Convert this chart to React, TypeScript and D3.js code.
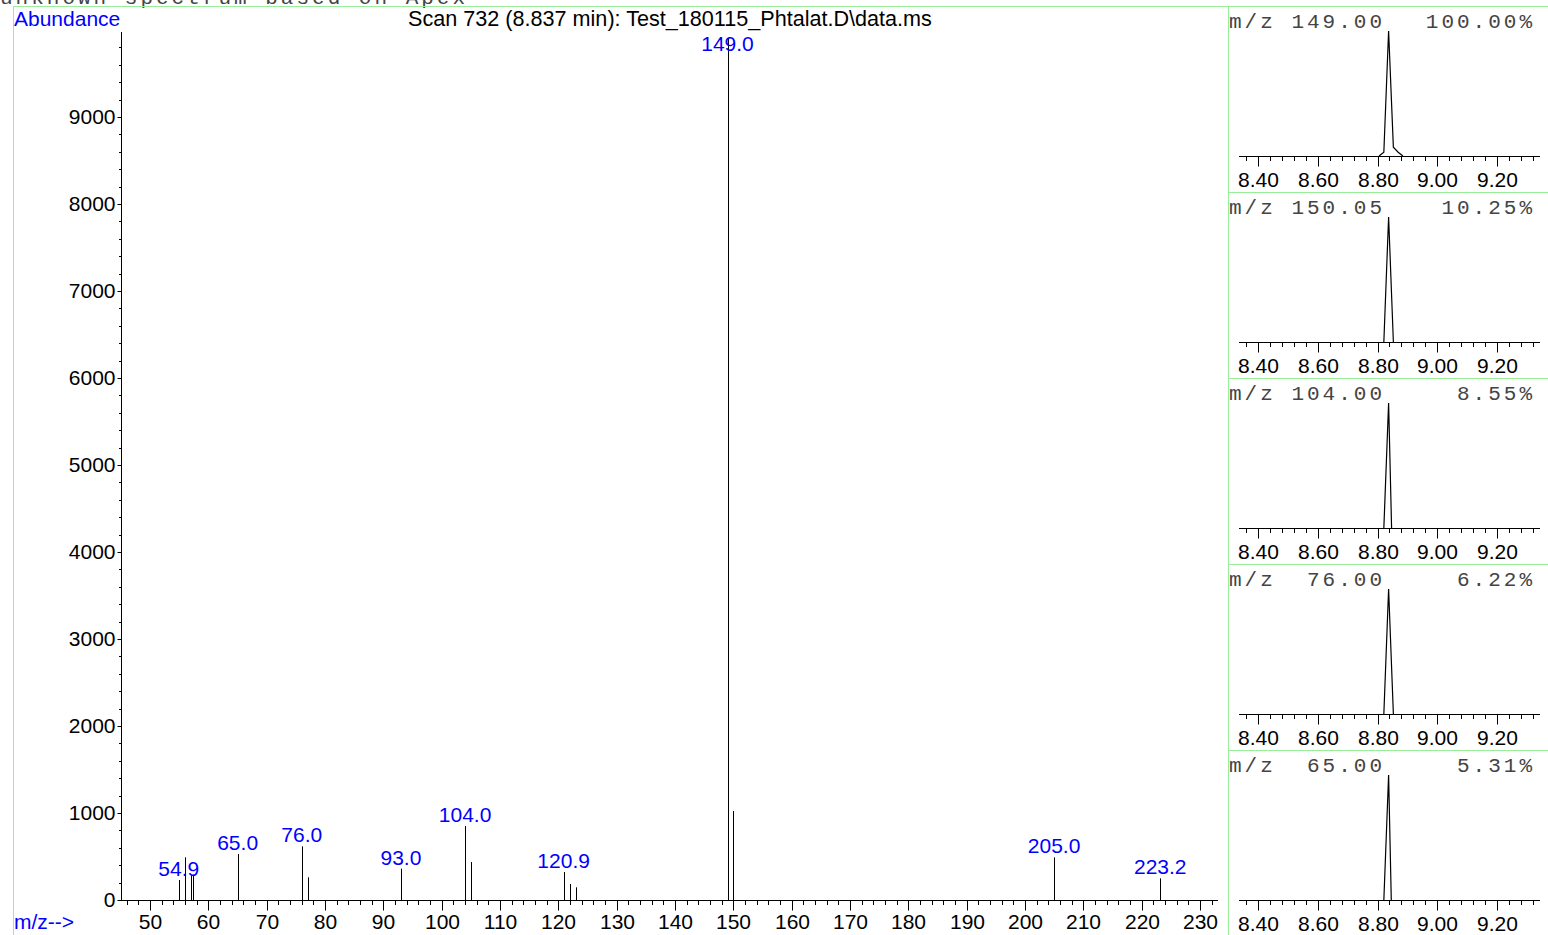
import React, { useEffect, useRef } from "react";
import * as d3 from "d3";

const HEADER = "unknown spectrum based on Apex";
const TITLE = "Scan 732 (8.837 min): Test_180115_Phtalat.D\\data.ms";

// spectrum: m/z and abundance of every line
const mzValues = [54.9, 56.0, 57.0, 57.3, 65.0, 76.0, 77.0, 93.0, 104.0, 105.0, 120.9, 122.0, 123.0, 149.0, 150.0, 205.0, 223.2];
const abundances = [230, 490, 287, 280, 529, 617, 261, 360, 851, 437, 322, 184, 146, 9910, 1023, 490, 249];
const labelledMz = [54.9, 65.0, 76.0, 93.0, 104.0, 120.9, 149.0, 205.0, 223.2];

const xMajor = [50, 60, 70, 80, 90, 100, 110, 120, 130, 140, 150, 160, 170, 180, 190, 200, 210, 220, 230];
const yMajor = [0, 1000, 2000, 3000, 4000, 5000, 6000, 7000, 8000, 9000];

// extracted ion chromatograms (right side)
const ionMz = ["149.00", "150.05", "104.00", " 76.00", " 65.00"];
const ionPercent = ["100.00%", "10.25%", "8.55%", "6.22%", "5.31%"];
const ionTimes = [
  [8.805, 8.821, 8.837, 8.853, 8.869, 8.885],
  [8.821, 8.837, 8.853],
  [8.821, 8.837, 8.847],
  [8.821, 8.837, 8.853],
  [8.821, 8.837, 8.846],
];
const ionAbund = [
  [0, 3, 100, 7, 3, 0],
  [0, 100, 0],
  [0, 100, 0],
  [0, 100, 0],
  [0, 100, 0],
];
const rtMajor = [8.4, 8.6, 8.8, 9.0, 9.2];

const W = 1548;
const H = 935;
const GREEN = "#99ee99";
const SANS = "'Liberation Sans', Arial, Helvetica, sans-serif";
const MONO = "'Liberation Mono', 'Courier New', monospace";
const FS = "21px";

export default function App() {
  const ref = useRef<SVGSVGElement>(null);

  useEffect(() => {
    if (!ref.current) return;
    const svg = d3.select(ref.current);
    svg.selectAll("*").remove();

    svg.append("rect").attr("width", W).attr("height", H).attr("fill", "#fff");

    // header, mostly cut off by the top edge
    svg
      .append("text")
      .attr("x", 0)
      .attr("y", 4)
      .style("font-family", MONO)
      .style("font-size", "21px")
      .style("letter-spacing", "3px")
      .attr("fill", "#444")
      .text(HEADER);

    // frame lines
    const frame = svg.append("g").attr("stroke", GREEN).attr("stroke-width", 1).attr("shape-rendering", "crispEdges");
    frame.append("line").attr("x1", 13.5).attr("x2", 13.5).attr("y1", 6).attr("y2", H);
    frame.append("line").attr("x1", 1228.5).attr("x2", 1228.5).attr("y1", 6).attr("y2", H);
    frame.append("line").attr("x1", 13).attr("x2", W).attr("y1", 6.5).attr("y2", 6.5);
    [1, 2, 3, 4].forEach((i) => {
      const yy = 6.5 + 186 * i;
      frame.append("line").attr("x1", 1228).attr("x2", W).attr("y1", yy).attr("y2", yy);
    });

    // ---- main spectrum ----
    const x = d3.scaleLinear().domain([45, 233.1]).range([121, 1218]);
    const y = d3.scaleLinear().domain([0, 10000]).range([900, 30]);

    const main = svg.append("g");

    main
      .append("text")
      .attr("x", 14)
      .attr("y", 26)
      .attr("fill", "#0000ff")
      .style("font-family", SANS)
      .style("font-size", FS)
      .text("Abundance");

    main
      .append("text")
      .attr("x", 670)
      .attr("y", 26)
      .attr("text-anchor", "middle")
      .attr("fill", "#000")
      .style("font-family", SANS)
      .style("font-size", "21.6px")
      .text(TITLE);

    main
      .append("text")
      .attr("x", 14)
      .attr("y", 929)
      .attr("fill", "#0000ff")
      .style("font-family", SANS)
      .style("font-size", FS)
      .text("m/z-->");

    // minor ticks
    const xMinor = d3.range(46, 233, 2).filter((v) => v % 10 !== 0);
    main
      .append("g")
      .selectAll("line")
      .data(xMinor)
      .join("line")
      .attr("x1", (d) => Math.round(x(d)) + 0.5)
      .attr("x2", (d) => Math.round(x(d)) + 0.5)
      .attr("y1", 900)
      .attr("y2", 905)
      .attr("stroke", "#000");

    const yMinor = d3.range(200, 10000, 200).filter((v) => v % 1000 !== 0);
    main
      .append("g")
      .selectAll("line")
      .data(yMinor)
      .join("line")
      .attr("x1", 119)
      .attr("x2", 121)
      .attr("y1", (d) => Math.round(y(d)) + 0.5)
      .attr("y2", (d) => Math.round(y(d)) + 0.5)
      .attr("stroke", "#000");

    const xAxis = main
      .append("g")
      .attr("transform", "translate(0,900.5)")
      .call(
        d3
          .axisBottom(x)
          .tickValues(xMajor)
          .tickSize(10)
          .tickSizeOuter(0)
          .tickPadding(4)
          .tickFormat((d) => String(d))
      );
    xAxis.select(".domain").remove();
    xAxis.selectAll(".tick").attr("transform", (d: any) => `translate(${Math.round(x(d)) + 0.5},0)`);
    xAxis.selectAll("text").style("font-family", SANS).style("font-size", FS).attr("fill", "#000");

    const yAxis = main
      .append("g")
      .attr("transform", "translate(121.5,0)")
      .call(d3.axisLeft(y).tickValues(yMajor).tickSize(4).tickSizeOuter(0).tickPadding(2).tickFormat((d) => String(d)));
    yAxis.select(".domain").remove();
    yAxis.selectAll(".tick").attr("transform", (d: any) => `translate(0,${Math.round(y(d)) + 0.5})`);
    yAxis.selectAll("text").style("font-family", SANS).style("font-size", FS).attr("fill", "#000");

    main.append("line").attr("x1", 121).attr("x2", 1218).attr("y1", 900.5).attr("y2", 900.5).attr("stroke", "#000");
    main.append("line").attr("x1", 121.5).attr("x2", 121.5).attr("y1", 32).attr("y2", 901).attr("stroke", "#000");

    // spectrum lines
    main
      .append("g")
      .selectAll("line")
      .data(mzValues)
      .join("line")
      .attr("x1", (d) => Math.round(x(d)) + 0.5)
      .attr("x2", (d) => Math.round(x(d)) + 0.5)
      .attr("y1", 900)
      .attr("y2", (_, i) => y(abundances[i]))
      .attr("stroke", "#000")
      .attr("stroke-width", 1);

    main
      .append("g")
      .selectAll("text")
      .data(labelledMz)
      .join("text")
      .attr("x", (d) => x(d))
      .attr("y", (d) => Math.max(51, y(abundances[mzValues.indexOf(d)]) - 4))
      .attr("text-anchor", "middle")
      .attr("fill", "#0000ff")
      .style("font-family", SANS)
      .style("font-size", FS)
      .text((d) => d.toFixed(1));

    // ---- ion chromatogram panels ----
    const rt = d3.scaleLinear().domain([8.335, 9.345]).range([1239, 1540]);
    const rtMinor = d3.range(0, 25).map((i) => 8.36 + i * 0.04).filter((v) => Math.abs(v * 5 - Math.round(v * 5)) > 1e-6);

    ionMz.forEach((mz, k) => {
      const top = 6 + 186 * k;
      const base = top + 150;
      const g = svg.append("g");
      const yy = d3.scaleLinear().domain([0, d3.max(ionAbund[k]) as number]).range([base, top + 25]);

      g.append("text")
        .attr("x", 1229)
        .attr("y", top + 22)
        .attr("fill", "#444")
        .style("font-family", MONO)
        .style("font-size", "21px")
        .style("letter-spacing", "3px")
        .style("white-space", "pre")
        .text(`m/z ${mz}`);

      g.append("text")
        .attr("x", 1535)
        .attr("y", top + 22)
        .attr("text-anchor", "end")
        .attr("fill", "#444")
        .style("font-family", MONO)
        .style("font-size", "21px")
        .style("letter-spacing", "3px")
        .text(ionPercent[k]);

      g.append("g")
        .selectAll("line")
        .data(rtMinor)
        .join("line")
        .attr("x1", (d) => Math.round(rt(d)) + 0.5)
        .attr("x2", (d) => Math.round(rt(d)) + 0.5)
        .attr("y1", base)
        .attr("y2", base + 5)
        .attr("stroke", "#000");

      const ax = g
        .append("g")
        .attr("transform", `translate(0,${base + 0.5})`)
        .call(
          d3
            .axisBottom(rt)
            .tickValues(rtMajor)
            .tickSize(10)
            .tickSizeOuter(0)
            .tickPadding(6)
            .tickFormat((d) => (d as number).toFixed(2))
        );
      ax.select(".domain").remove();
      ax.selectAll(".tick").attr("transform", (d: any) => `translate(${Math.round(rt(d)) + 0.5},0)`);
      ax.selectAll("text").style("font-family", SANS).style("font-size", FS).attr("fill", "#000");

      g.append("line").attr("x1", 1239).attr("x2", 1540).attr("y1", base + 0.5).attr("y2", base + 0.5).attr("stroke", "#000");

      const line = d3
        .line<number>()
        .x((_, i) => rt(ionTimes[k][i]))
        .y((d) => yy(d));

      g.append("path")
        .datum(ionAbund[k])
        .attr("fill", "none")
        .attr("stroke", "#000")
        .attr("stroke-width", 1.2)
        .attr("d", line);
    });
  }, []);

  return (
    <svg
      ref={ref}
      width={W}
      height={H}
      style={{ position: "absolute", left: 0, top: 0, display: "block" }}
    />
  );
}
